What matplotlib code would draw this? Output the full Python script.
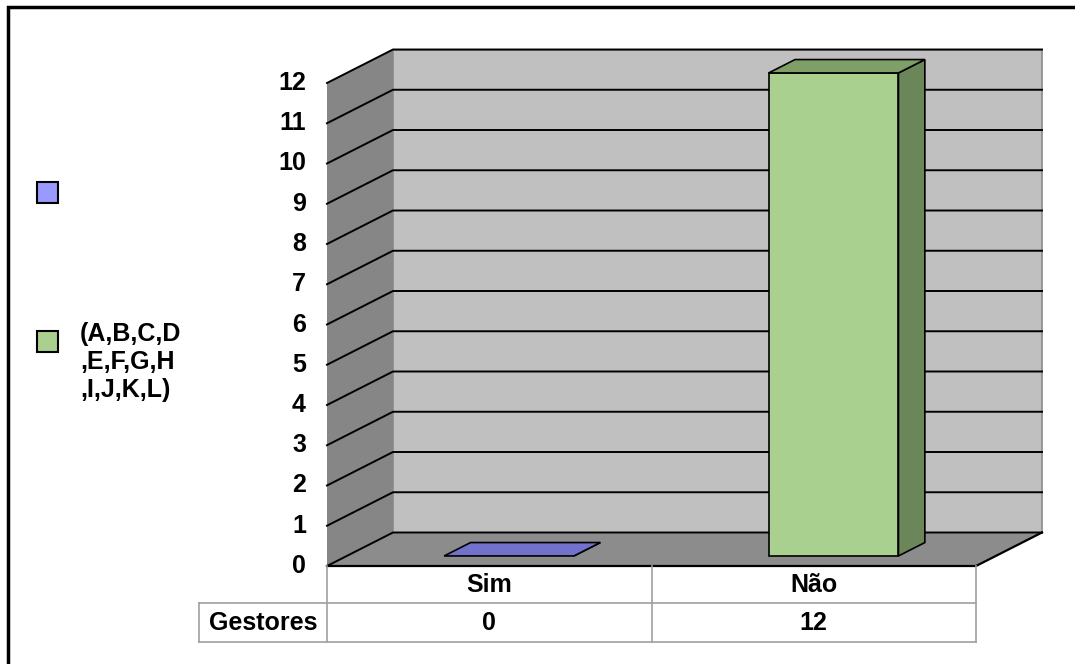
import matplotlib
matplotlib.use("Agg")
import matplotlib.pyplot as plt
from matplotlib.patches import Polygon, Rectangle

plt.rcParams['font.family'] = ['Liberation Sans', 'DejaVu Sans']

# Data
categories = ["Sim", "Não"]
values = [0, 12]
row_label = "Gestores"
series_labels = ["", "(A,B,C,D\n,E,F,G,H\n,I,J,K,L)"]
yticks = list(range(0, 13))

front_colors = ["#9999ff", "#a9d08e"]
top_colors = ["#7272cc", "#7f9f68"]
side_colors = ["#6666aa", "#6b8759"]

FS = 18

W, H = 1075, 664
fig = plt.figure(figsize=(W / 100, H / 100), dpi=100)
ax = fig.add_axes([0, 0, 1, 1])
ax.set_xlim(0, W)
ax.set_ylim(H, 0)
ax.axis("off")

# Plot geometry (pixel space of the canvas)
X0, X1 = 327, 976          # front plane extent
Y0 = 566                   # front floor line (value 0)
UNIT = 40.25               # pixels per value unit
DX, DY = 66, -33.5         # full depth offset
VMAX = 12
ncat = len(categories)
cw = (X1 - X0) / ncat


def P(x, v, d):
    """Project front-plane x, value v and depth fraction d to canvas coords."""
    return (x + DX * d, Y0 - v * UNIT + DY * d)


def poly(pts, fc, ec="black", lw=1.2, z=1):
    ax.add_patch(Polygon(pts, closed=True, facecolor=fc, edgecolor=ec,
                         linewidth=lw, joinstyle="miter", zorder=z))


# Walls and floor
poly([P(X0, 0, 1), P(X1, 0, 1), P(X1, VMAX, 1), P(X0, VMAX, 1)],
     "#c0c0c0", ec="#8a8a8a", lw=1.2, z=1)
poly([P(X0, 0, 0), P(X0, 0, 1), P(X0, VMAX, 1), P(X0, VMAX, 0)],
     "#868686", ec="none", z=1)
poly([P(X0, 0, 0), P(X1, 0, 0), P(X1, 0, 1), P(X0, 0, 1)],
     "#8c8c8c", ec="none", z=1)

# Gridlines on back and side walls
for v in yticks:
    xs = [P(X0, v, 0)[0], P(X0, v, 1)[0], P(X1, v, 1)[0]]
    ys = [P(X0, v, 0)[1], P(X0, v, 1)[1], P(X1, v, 1)[1]]
    ax.plot(xs, ys, color="black", lw=1.4, zorder=2, solid_joinstyle="miter")

# Floor edges
ax.plot([P(X0, 0, 0)[0], P(X1, 0, 0)[0], P(X1, 0, 1)[0]],
        [P(X0, 0, 0)[1], P(X1, 0, 0)[1], P(X1, 0, 1)[1]],
        color="black", lw=1.6, zorder=2)

# Value axis labels
for v in yticks:
    x, y = P(X0, v, 0)
    ax.text(x - 21, y, str(v), ha="right", va="center",
            fontsize=FS, fontweight="bold", zorder=5)

# 3D bars
bw = 0.40 * cw
d0, d1 = 0.30, 0.70
for i, v in enumerate(values):
    cx = X0 + cw * (i + 0.5)
    xl, xr = cx - bw / 2, cx + bw / 2
    # right side face
    poly([P(xr, 0, d0), P(xr, 0, d1), P(xr, v, d1), P(xr, v, d0)],
         side_colors[i], z=3)
    # front face
    if v > 0:
        poly([P(xl, 0, d0), P(xr, 0, d0), P(xr, v, d0), P(xl, v, d0)],
             front_colors[i], z=4)
    # top face
    poly([P(xl, v, d0), P(xr, v, d0), P(xr, v, d1), P(xl, v, d1)],
         top_colors[i], z=4)

# Data table
grid_c = "#a0a0a0"
r0, r1, r2 = Y0, 603, 642
tl = 199
ax.plot([X0, X0], [r0, r2], color=grid_c, lw=1.2, zorder=2)
for i in range(1, ncat + 1):
    x = X0 + cw * i
    ax.plot([x, x], [r0, r2], color=grid_c, lw=1.2, zorder=2)
ax.plot([tl, X1], [r1, r1], color=grid_c, lw=1.2, zorder=2)
ax.plot([tl, X1], [r2, r2], color=grid_c, lw=1.2, zorder=2)
ax.plot([tl, tl], [r1, r2], color=grid_c, lw=1.2, zorder=2)
ax.text((tl + X0) / 2, (r1 + r2) / 2 + 1, row_label, ha="center", va="center",
        fontsize=FS, fontweight="bold")
for i, (c, v) in enumerate(zip(categories, values)):
    cx = X0 + cw * (i + 0.5)
    ax.text(cx, (r0 + r1) / 2 + 1, c, ha="center", va="center",
            fontsize=FS, fontweight="bold")
    ax.text(cx, (r1 + r2) / 2 + 1, str(v), ha="center", va="center",
            fontsize=FS, fontweight="bold")

# Legend
leg_y = [193, 342]
for i, lab in enumerate(series_labels):
    ax.add_patch(Rectangle((37, leg_y[i] - 11), 21, 21, facecolor=front_colors[i],
                           edgecolor="black", linewidth=1.5, zorder=5))
    if lab:
        ax.text(80, 362, lab, ha="left", va="center", fontsize=FS,
                fontweight="bold", linespacing=1.2)

# Outer frame (top and left edges)
ax.plot([7.5, 7.5, W], [H, 7, 7], color="black", lw=2.5, zorder=6,
        solid_joinstyle="miter")

fig.savefig("out.png", dpi=100)
